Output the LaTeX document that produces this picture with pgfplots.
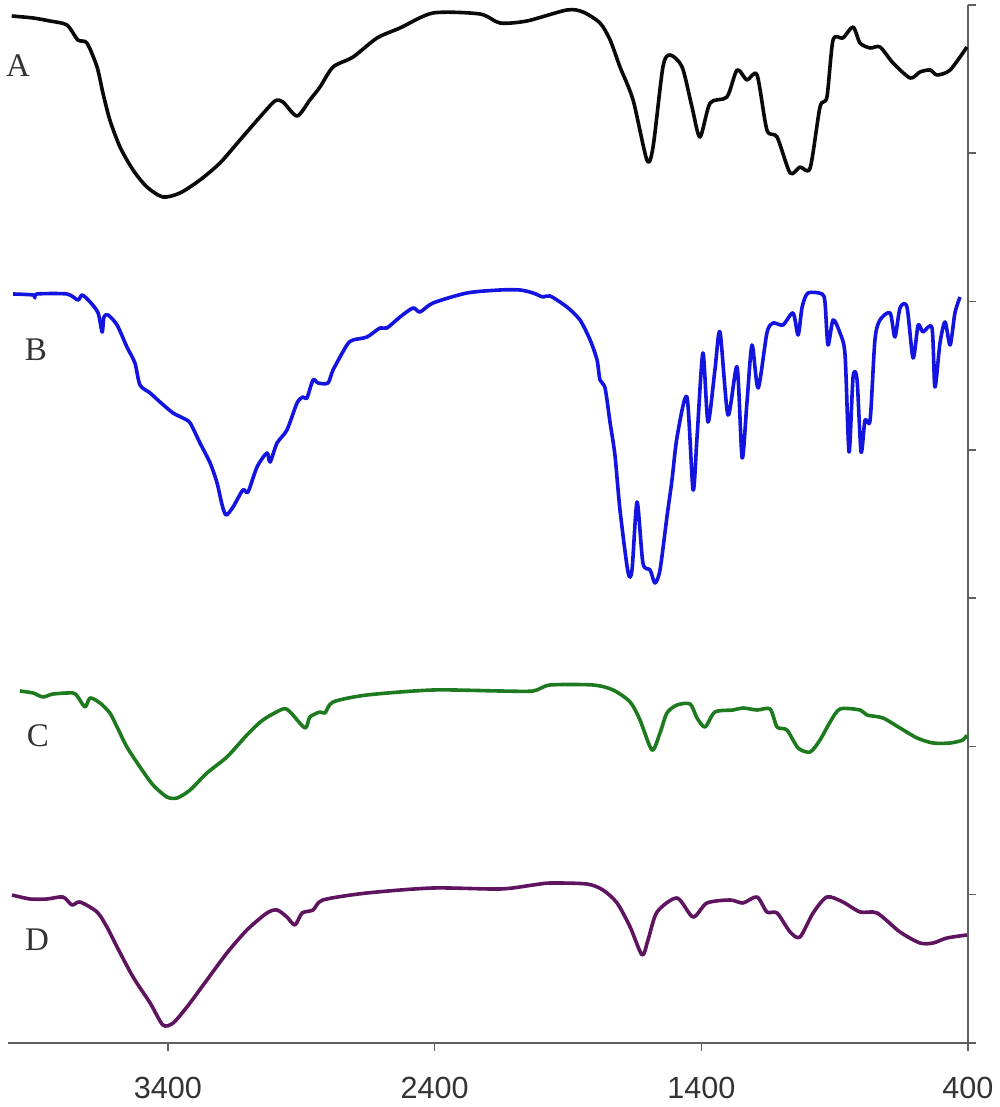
\documentclass[border=0pt]{standalone}
\usepackage{pgfplots}
\pgfplotsset{compat=1.18}
\usepackage{fontspec}
\setmainfont{Liberation Serif}
\newfontfamily\arial{Liberation Sans}
\definecolor{cA}{RGB}{10,10,10}
\definecolor{cB}{RGB}{20,20,225}
\definecolor{cC}{RGB}{30,122,30}
\definecolor{cD}{RGB}{95,20,95}
\definecolor{axgray}{RGB}{95,95,95}
\begin{document}
\begin{tikzpicture}
\useasboundingbox (-4pt,-32pt) rectangle (496pt,521.5pt);
\begin{axis}[
  scale only axis, width=480pt, height=519pt,
  xmin=400, xmax=4000, x dir=reverse,
  ymin=0, ymax=1038,
  axis x line*=bottom, axis y line*=right,
  xtick={400,1400,2400,3400},
  xticklabels={400,1400,2400,3400},
  ytick={0,148.3,296.6,444.9,593.1,741.4,889.7,1038},
  yticklabels={},
  tick align=outside, major tick length=4pt,
  axis line style={axgray, line width=0.8pt, -},
  tick style={axgray, line width=0.8pt},
  x tick label style={font=\arial\fontsize{15.3}{16}\selectfont, text=black!80, yshift=-9.5pt},
  clip=false,
  every axis plot/.append style={line width=1.8pt, line join=round, smooth, tension=0.45},
]
\addplot[cA] coordinates {
(3986,1027)(3906,1025)(3843,1022)(3779,1018)(3738,1003)(3704,1000)(3666,976)(3644,950)
(3618,923)(3580,896)(3531,873)(3479,856)(3419,846)(3355,850)(3280,863)(3205,880)
(3130,903)(3055,926)(2999,942)(2969,941)(2916,927)(2868,943)(2830,956)(2781,976)
(2706,986)(2616,1005)(2530,1015)(2406,1030)(2230,1029)(2155,1020)(2054,1022)(1904,1033)
(1844,1031)(1780,1020)(1742,1003)(1705,976)(1656,943)(1604,883)(1581,896)(1544,976)
(1517,988)(1472,976)(1435,936)(1405,906)(1367,940)(1304,946)(1266,973)(1229,963)
(1191,968)(1154,913)(1116,906)(1067,870)(1030,876)(992,875)(955,936)(929,946)
(906,1003)(869,1005)(831,1016)(805,1000)(767,995)(730,996)(681,980)(617,965)
(580,971)(542,973)(516,968)(467,973)(404,996)
};
\addplot[cB] coordinates {
(3981,749)(3906,748)(3899,745)(3891,749)(3779,749)(3738,743)(3722,748)(3692,741)
(3662,730)(3647,711)(3640,726)(3625,728)(3591,718)(3554,696)(3524,680)(3505,658)
(3467,650)(3430,641)(3381,630)(3344,625)(3317,620)(3280,600)(3242,580)(3216,560)
(3197,538)(3182,528)(3156,536)(3119,553)(3100,551)(3066,576)(3029,590)(3017,581)
(2991,600)(2954,613)(2916,640)(2894,646)(2879,645)(2856,663)(2837,660)(2800,660)
(2781,673)(2729,698)(2706,703)(2654,706)(2605,715)(2579,715)(2530,726)(2481,735)
(2455,731)(2406,740)(2279,750)(2155,753)(2080,753)(2031,750)(1994,746)(1967,747)
(1904,736)(1855,723)(1817,703)(1791,683)(1780,663)(1761,655)(1742,620)(1724,588)
(1705,533)(1675,471)(1660,473)(1641,541)(1619,480)(1592,473)(1574,460)(1555,473)
(1529,526)(1510,563)(1491,606)(1454,646)(1431,553)(1416,606)(1394,690)(1375,621)
(1349,673)(1330,711)(1300,628)(1266,676)(1247,585)(1229,640)(1210,698)(1187,655)
(1154,710)(1131,720)(1094,718)(1056,730)(1037,708)(1022,736)(1000,750)(947,749)
(936,740)(925,698)(906,723)(880,710)(861,688)(846,591)(831,666)(816,663)
(801,591)(786,623)(767,623)(749,703)(730,723)(692,730)(674,706)(655,735)
(629,736)(606,685)(587,718)(569,711)(535,715)(524,656)(505,700)(486,721)
(467,698)(449,730)(430,746)
};
\addplot[cC] coordinates {
(3955,352)(3906,350)(3869,346)(3831,349)(3756,350)(3738,346)(3711,336)(3692,345)
(3655,340)(3618,330)(3591,316)(3554,296)(3505,276)(3456,258)(3404,246)(3366,245)
(3317,253)(3254,270)(3179,286)(3104,308)(3044,323)(2969,334)(2942,331)(2886,315)
(2868,326)(2830,331)(2811,330)(2781,341)(2654,348)(2406,353)(2155,352)(2031,352)
(1967,358)(1806,358)(1731,353)(1667,341)(1630,323)(1585,293)(1555,310)(1529,330)
(1491,338)(1442,339)(1416,325)(1386,316)(1349,331)(1281,333)(1244,335)(1191,333)
(1142,334)(1116,316)(1079,313)(1037,295)(992,291)(955,303)(917,321)(880,334)
(805,333)(779,328)(719,325)(655,315)(591,305)(531,300)(467,300)(419,303)(404,308)
};
\addplot[cD] coordinates {
(3985,148)(3917,144)(3854,144)(3794,146)(3760,138)(3730,141)(3666,131)(3629,116)
(3591,96)(3531,66)(3467,40)(3419,18)(3381,20)(3329,36)(3254,63)(3179,90)
(3104,113)(3029,130)(2991,133)(2954,126)(2924,118)(2897,130)(2856,133)(2819,143)
(2654,150)(2406,155)(2155,154)(2031,158)(1967,160)(1829,159)(1769,153)(1716,140)
(1667,116)(1622,88)(1600,103)(1566,131)(1491,145)(1431,126)(1379,140)(1292,143)
(1244,140)(1191,146)(1154,131)(1116,130)(1067,111)(1030,106)(981,130)(929,146)
(869,141)(805,131)(741,130)(655,111)(580,100)(531,100)(479,105)(404,108)
};
\node[font=\fontsize{16.5}{18}\selectfont, text=black!80] at (axis cs:3962,977) {A};
\node[font=\fontsize{16.5}{18}\selectfont, text=black!80] at (axis cs:3895,693) {B};
\node[font=\fontsize{16.5}{18}\selectfont, text=black!80] at (axis cs:3888,307) {C};
\node[font=\fontsize{16.5}{18}\selectfont, text=black!80] at (axis cs:3891,103) {D};
\end{axis}
\end{tikzpicture}
\end{document}
